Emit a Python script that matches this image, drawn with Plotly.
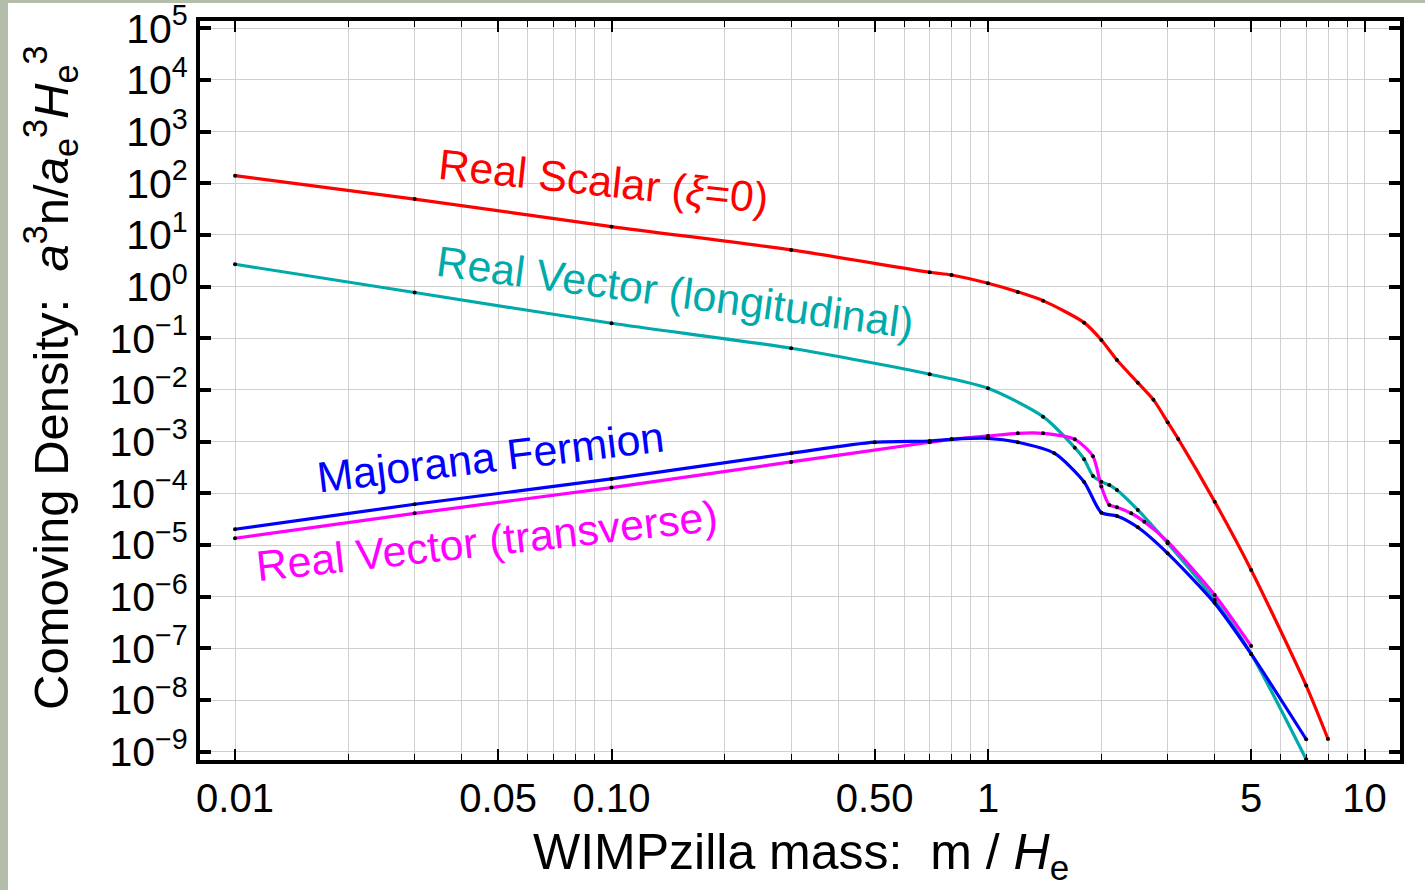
import plotly.graph_objects as go

# ---------------- data ----------------
scalar_m = [0.01, 0.03, 0.1, 0.3, 0.7, 0.8, 1.0, 1.2, 1.4, 1.8, 2.0, 2.2, 2.5, 2.75, 3.0, 3.2, 4.0, 5.0, 7.0, 8.0]
scalar_n = [140.7, 49.5, 14.5, 5.13, 1.90, 1.68, 1.16, 0.79, 0.536, 0.201, 0.0929, 0.0381, 0.01386, 0.0065,
            0.00238, 0.00113, 6.9e-5, 3.29e-6, 1.9e-8, 1.76e-9]

vlong_m = [0.01, 0.03, 0.1, 0.3, 0.7, 1.0, 1.4, 1.7, 1.8, 1.9, 2.0, 2.1, 2.2, 2.5, 3.0, 4.0, 5.0, 7.0]
vlong_n = [2.71, 0.77, 0.196, 0.0643, 0.0202, 0.0108, 0.00305, 7.65e-4, 4.57e-4, 2.17e-4, 1.68e-4, 1.45e-4,
           1.16e-4, 4.77e-5, 1.08e-5, 8.6e-7, 7.8e-8, 7.1e-10]

vtrans_m = [0.01, 0.03, 0.1, 0.3, 0.7, 0.8, 1.0, 1.2, 1.4, 1.7, 1.9, 2.0, 2.1, 2.2, 2.4, 2.6, 3.0, 4.0, 5.0]
vtrans_n = [1.35e-5, 4.1e-5, 1.29e-4, 4.05e-4, 9.75e-4, 1.11e-3, 1.29e-3, 1.45e-3, 1.45e-3, 1.11e-3, 5.22e-4,
            1.35e-4, 5.96e-5, 5.38e-5, 4.11e-5, 2.83e-5, 1.16e-5, 1.08e-6, 1.11e-7]

fermion_m = [0.01, 0.03, 0.1, 0.3, 0.5, 0.7, 0.8, 1.0, 1.2, 1.5, 1.8, 2.0, 2.2, 2.5, 3.0, 4.0, 5.0, 7.0]
fermion_n = [2.02e-5, 6.15e-5, 1.9e-4, 5.97e-4, 9.75e-4, 1.03e-3, 1.11e-3, 1.16e-3, 9.75e-4, 5.97e-4, 1.66e-4,
             4.23e-5, 3.65e-5, 2.2e-5, 6.9e-6, 7.5e-7, 7.8e-8, 1.74e-9]

x_major = [0.01, 0.05, 0.1, 0.5, 1, 5, 10]
x_major_text = ["0.01", "0.05", "0.10", "0.50", "1", "5", "10"]
x_minor = [0.02, 0.03, 0.04, 0.06, 0.07, 0.08, 0.09, 0.2, 0.3, 0.4, 0.6, 0.7, 0.8, 0.9,
           2, 3, 4, 6, 7, 8, 9]
y_exponents = list(range(-9, 6))

# ---------------- layout geometry ----------------
W, H = 1425, 890
L, R, T, B = 200, 25, 21, 130
PW, PH = W - L - R, H - T - B


def px(x):
    return (x - L) / PW


def py(y):
    return (H - B - y) / PH


FONT = "Liberation Sans, Arial, Helvetica, sans-serif"

series = [
    (scalar_m, scalar_n, "#ff0000", "Real Scalar"),
    (vlong_m, vlong_n, "#00aaaa", "Real Vector (longitudinal)"),
    (vtrans_m, vtrans_n, "#ff00ff", "Real Vector (transverse)"),
    (fermion_m, fermion_n, "#0000ff", "Majorana Fermion"),
]

fig = go.Figure()
for m, n, col, name in series:
    fig.add_trace(go.Scatter(
        x=m, y=n, mode="lines", name=name,
        line=dict(color=col, width=3.2, shape="spline", smoothing=0.7),
        showlegend=False, hoverinfo="skip"))
for m, n, col, name in series:
    fig.add_trace(go.Scatter(
        x=m, y=n, mode="markers", name=name + " pts",
        marker=dict(color="black", size=4),
        showlegend=False, hoverinfo="skip"))

grid_col = "#cfcfcf"
fig.update_xaxes(
    type="log", range=[-2.093, 1.0943], automargin=False, ticklabeloverflow="allow",
    tickmode="array", tickvals=x_major, ticktext=x_major_text,
    ticks="inside", ticklen=11, tickwidth=1.5, tickcolor="black",
    showgrid=True, gridcolor=grid_col, gridwidth=1,
    showline=True, linecolor="black", linewidth=4, mirror="ticks",
    zeroline=False,
    tickfont=dict(family=FONT, size=40, color="black"),
    minor=dict(tickmode="array", tickvals=x_minor, ticks="inside", ticklen=6,
               tickwidth=1, tickcolor="black", showgrid=True, gridcolor=grid_col, gridwidth=1),
)
fig.update_yaxes(
    type="log", range=[-9.161, 5.141], automargin=False, ticklabeloverflow="allow",
    tickmode="array", tickvals=[10.0 ** e for e in y_exponents],
    ticktext=["10<sup>%s</sup>" % (str(e).replace("-", "\u2212")) for e in y_exponents],
    ticks="inside", ticklen=11, tickwidth=4, tickcolor="black",
    showgrid=True, gridcolor=grid_col, gridwidth=1,
    showline=True, linecolor="black", linewidth=4, mirror="ticks",
    zeroline=False,
    tickfont=dict(family=FONT, size=41, color="black"),
)

ann = []
labels = [
    ("Real Scalar (<i>\u03be</i>=0)", "#ff0000", 603, 181, 6),
    ("Real Vector (longitudinal)", "#00aaaa", 675, 292, 7.5),
    ("Majorana Fermion", "#0000ff", 490, 457, -6.8),
    ("Real Vector (transverse)", "#ff00ff", 487, 541, -6.3),
]
for text, col, x, y, ang in labels:
    ann.append(dict(text=text, x=px(x), y=py(y), xref="paper", yref="paper",
                    xanchor="center", yanchor="middle", textangle=ang, showarrow=False,
                    font=dict(family=FONT, size=43, color=col)))

ann.append(dict(text="WIMPzilla mass:\u00a0\u00a0m / <i>H</i><sub>e</sub>",
                x=px(801), y=py(855), xref="paper", yref="paper",
                xanchor="center", yanchor="middle", showarrow=False,
                font=dict(family=FONT, size=50, color="black")))
ann.append(dict(text="Comoving Density:\u00a0\u00a0<i>a</i><sup>3</sup>n/<i>a</i><sub>e</sub><sup>3</sup><i>H</i><sub>e</sub><sup>3</sup>",
                x=px(50), y=py(378), xref="paper", yref="paper",
                xanchor="center", yanchor="middle", textangle=-90, showarrow=False,
                font=dict(family=FONT, size=49, color="black")))

shapes = [
    dict(type="rect", xref="paper", yref="paper", x0=px(0), x1=px(8), y0=py(H), y1=py(0),
         fillcolor="#b3bdaa", line=dict(width=0), layer="below"),
    dict(type="rect", xref="paper", yref="paper", x0=px(0), x1=px(W), y0=py(3), y1=py(0),
         fillcolor="#b3bdaa", line=dict(width=0), layer="below"),
]

fig.update_layout(
    width=W, height=H,
    margin=dict(l=L, r=R, t=T, b=B, pad=0, autoexpand=False),
    paper_bgcolor="white", plot_bgcolor="white",
    annotations=ann, shapes=shapes,
    showlegend=False,
)

fig.write_html("out.html")
